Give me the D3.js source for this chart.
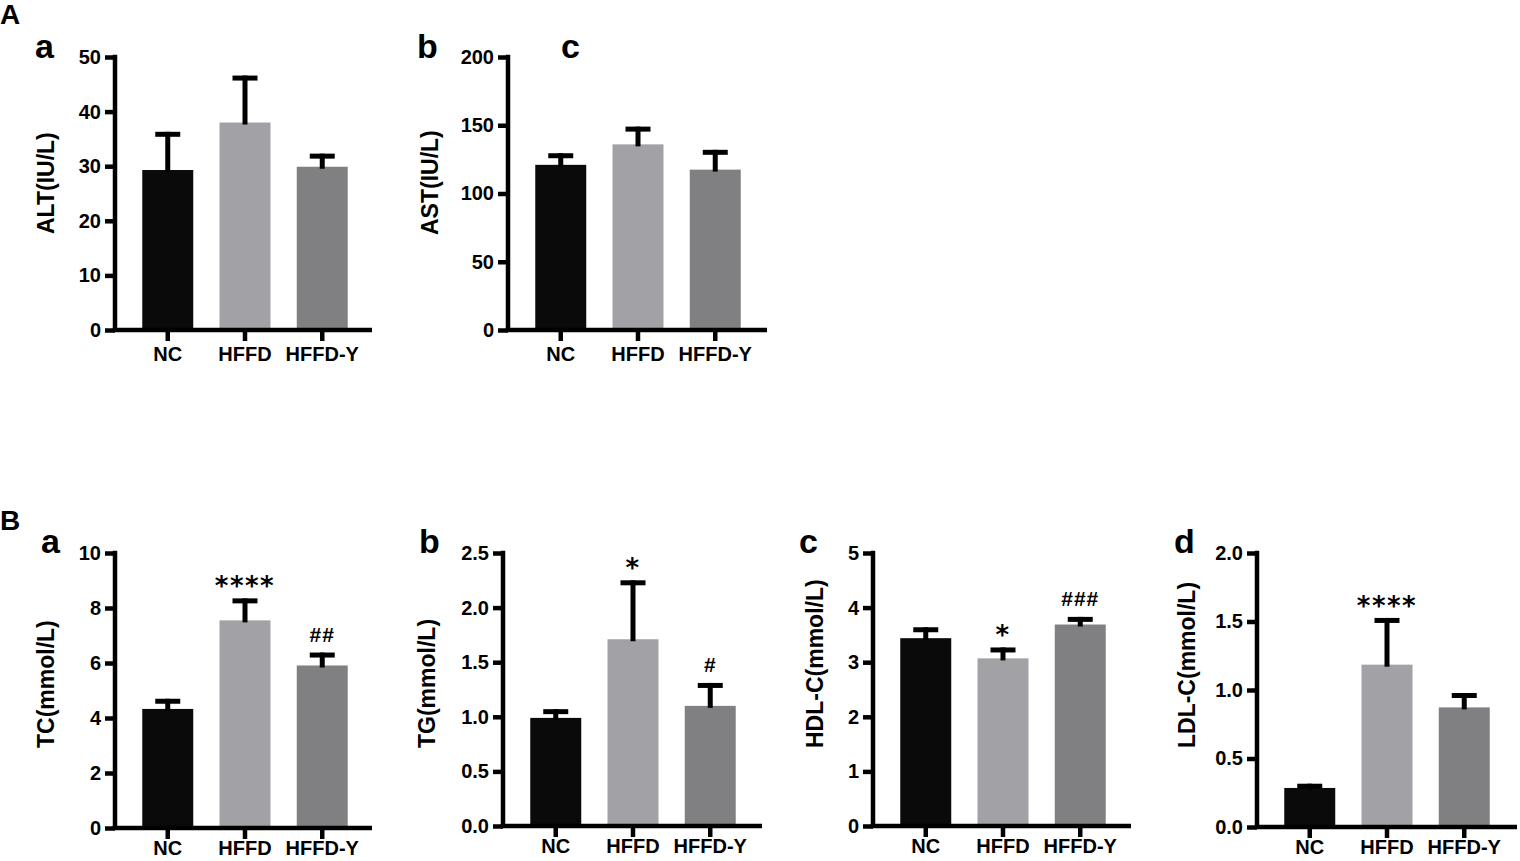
<!DOCTYPE html>
<html>
<head>
<meta charset="utf-8">
<script src="https://cdn.jsdelivr.net/npm/d3@7"></script>
<style>
  body { margin: 0; background: #fff; }
  text { font-family: "Liberation Sans", Arial, sans-serif; }
</style>
</head>
<body>
<svg id="chart" width="1520" height="861"></svg>
<script>
// groups and colours
const groups = ["NC", "HFFD", "HFFD-Y"]
const barColors = ["#0a0a0a", "#a2a2a6", "#808082"]

// A: liver enzymes (mean, SD)
const altMean = [29.3, 38.0, 29.9]
const altSd = [7.0, 8.6, 2.4]
const astMean = [121, 136, 117.5]
const astSd = [8.5, 13, 14.5]

// B: serum lipids (mean, SD)
const tcMean = [4.33, 7.55, 5.91]
const tcSd = [0.37, 0.80, 0.47]
const tgMean = [0.99, 1.71, 1.10]
const tgSd = [0.08, 0.54, 0.21]
const hdlMean = [3.44, 3.07, 3.69]
const hdlSd = [0.20, 0.20, 0.14]
const ldlMean = [0.285, 1.185, 0.873]
const ldlSd = [0.031, 0.341, 0.105]

// significance marks
const tcSig = ["", "****", "##"]
const tgSig = ["", "*", "#"]
const hdlSig = ["", "*", "###"]
const ldlSig = ["", "****", ""]

// tick labels
const altTicks = [0, 10, 20, 30, 40, 50]
const astTicks = [0, 50, 100, 150, 200]
const tcTicks = [0, 2, 4, 6, 8, 10]
const tgTicks = [0, 0.5, 1.0, 1.5, 2.0, 2.5]
const hdlTicks = [0, 1, 2, 3, 4, 5]
const ldlTicks = [0, 0.5, 1.0, 1.5, 2.0]

const svg = d3.select("#chart")

const panels = [
  { title: "ALT(IU/L)", mean: altMean, sd: altSd, sig: null, ticks: altTicks, fmt: d3.format("d"),
    x0: 115, x1: 372, top: 57, bottom: 330, tx: 46, ty: 234, labelGap: 32 },
  { title: "AST(IU/L)", mean: astMean, sd: astSd, sig: null, ticks: astTicks, fmt: d3.format("d"),
    x0: 508, x1: 767, top: 57, bottom: 330, tx: 430, ty: 235, labelGap: 32 },
  { title: "TC(mmol/L)", mean: tcMean, sd: tcSd, sig: tcSig, ticks: tcTicks, fmt: d3.format("d"),
    x0: 115, x1: 372, top: 553, bottom: 828, tx: 46, ty: 748, labelGap: 28 },
  { title: "TG(mmol/L)", mean: tgMean, sd: tgSd, sig: tgSig, ticks: tgTicks, fmt: d3.format(".1f"),
    x0: 503, x1: 762, top: 553, bottom: 826, tx: 427, ty: 748, labelGap: 28 },
  { title: "HDL-C(mmol/L)", mean: hdlMean, sd: hdlSd, sig: hdlSig, ticks: hdlTicks, fmt: d3.format("d"),
    x0: 873, x1: 1131, top: 553, bottom: 826, tx: 815, ty: 748, labelGap: 28 },
  { title: "LDL-C(mmol/L)", mean: ldlMean, sd: ldlSd, sig: ldlSig, ticks: ldlTicks, fmt: d3.format(".1f"),
    x0: 1257, x1: 1517, top: 553, bottom: 827, tx: 1187, ty: 748, labelGap: 28 }
]

function drawPanel(p) {
  const g = svg.append("g")
  const y = d3.scaleLinear()
    .domain([0, d3.max(p.ticks)])
    .range([p.bottom, p.top])
  const x = d3.scaleBand()
    .domain(groups)
    .range([p.x0 + 1, p.x0 + 259])
    .paddingInner(0.34)
    .paddingOuter(0.34)

  // bars
  g.selectAll("rect.bar")
    .data(groups)
    .enter()
    .append("rect")
      .attr("class", "bar")
      .attr("x", d => x(d))
      .attr("width", x.bandwidth())
      .attr("y", (d, i) => y(p.mean[i]))
      .attr("height", (d, i) => y(0) - y(p.mean[i]))
      .attr("fill", (d, i) => barColors[i])

  // error bars (upper only)
  const cx = d => x(d) + x.bandwidth() / 2
  g.selectAll("line.stem")
    .data(groups)
    .enter()
    .append("line")
      .attr("x1", cx).attr("x2", cx)
      .attr("y1", (d, i) => y(p.mean[i]) + 2)
      .attr("y2", (d, i) => y(p.mean[i] + p.sd[i]))
      .attr("stroke", "#000")
      .attr("stroke-width", 5)
  g.selectAll("line.cap")
    .data(groups)
    .enter()
    .append("line")
      .attr("x1", d => cx(d) - 12.5).attr("x2", d => cx(d) + 12.5)
      .attr("y1", (d, i) => y(p.mean[i] + p.sd[i]) + 2.5)
      .attr("y2", (d, i) => y(p.mean[i] + p.sd[i]) + 2.5)
      .attr("stroke", "#000")
      .attr("stroke-width", 5)

  // significance
  if (p.sig) {
    g.selectAll("text.sig")
      .data(groups)
      .enter()
      .append("text")
        .text((d, i) => p.sig[i])
        .attr("x", cx)
        .attr("text-anchor", "middle")
        .each(function(d, i) {
          const s = d3.select(this)
          const capY = y(p.mean[i] + p.sd[i])
          if (p.sig[i].startsWith("*")) {
            s.attr("y", capY - 3)
              .style("font-family", "'DejaVu Sans', sans-serif")
              .attr("font-size", 26)
              .attr("font-weight", "bold")
              .attr("letter-spacing", 1.5)
          } else {
            s.attr("y", capY - 11)
              .attr("font-size", 21)
              .attr("font-weight", "bold")
              .attr("letter-spacing", 1)
          }
        })
  }

  // y axis
  const yAxis = g.append("g")
    .attr("transform", `translate(${p.x0},0)`)
    .call(d3.axisLeft(y).tickValues(p.ticks).tickFormat(p.fmt).tickSize(10).tickPadding(4))
  yAxis.select(".domain").remove()
  yAxis.selectAll(".tick line").attr("stroke", "#000").attr("stroke-width", 4.5)
  yAxis.selectAll(".tick text")
    .attr("font-size", 20).attr("font-weight", "bold").attr("fill", "#000")
    .style("font-family", "'Liberation Sans', Arial, sans-serif")
  yAxis.append("line")
    .attr("x1", 0).attr("x2", 0)
    .attr("y1", p.top - 2.25).attr("y2", p.bottom)
    .attr("stroke", "#000").attr("stroke-width", 4.5)

  // x axis
  const xAxis = g.append("g")
    .attr("transform", `translate(0,${p.bottom})`)
    .call(d3.axisBottom(x).tickSize(11).tickPadding(p.labelGap - 26))
  xAxis.select(".domain").remove()
  xAxis.selectAll(".tick line").attr("stroke", "#000").attr("stroke-width", 4.5)
  xAxis.selectAll(".tick text")
    .attr("font-size", 20).attr("font-weight", "bold").attr("fill", "#000")
    .style("font-family", "'Liberation Sans', Arial, sans-serif")
  xAxis.append("line")
    .attr("x1", p.x0 - 2.25).attr("x2", p.x1)
    .attr("y1", 0).attr("y2", 0)
    .attr("stroke", "#000").attr("stroke-width", 4.5)

  // axis title, anchored at its lower end like the original
  g.append("text")
    .text(p.title)
    .attr("transform", `translate(${p.tx},${p.ty}) rotate(-90)`)
    .attr("dy", "0.35em")
    .attr("font-size", 23)
    .attr("font-weight", "bold")
}

panels.forEach(drawPanel)

// panel letters
const letters = [
  { t: "A", x: 0, y: 24, s: 28 },
  { t: "a", x: 35, y: 58, s: 34 },
  { t: "b", x: 417, y: 58, s: 34 },
  { t: "c", x: 561, y: 58, s: 34 },
  { t: "B", x: 0, y: 530, s: 28 },
  { t: "a", x: 41, y: 553, s: 34 },
  { t: "b", x: 419, y: 553, s: 34 },
  { t: "c", x: 799, y: 553, s: 34 },
  { t: "d", x: 1174, y: 553, s: 34 }
]
svg.selectAll("text.letter")
  .data(letters)
  .enter()
  .append("text")
    .attr("class", "letter")
    .text(d => d.t)
    .attr("x", d => d.x)
    .attr("y", d => d.y)
    .attr("font-size", d => d.s)
    .attr("font-weight", "bold")
</script>
</body>
</html>
